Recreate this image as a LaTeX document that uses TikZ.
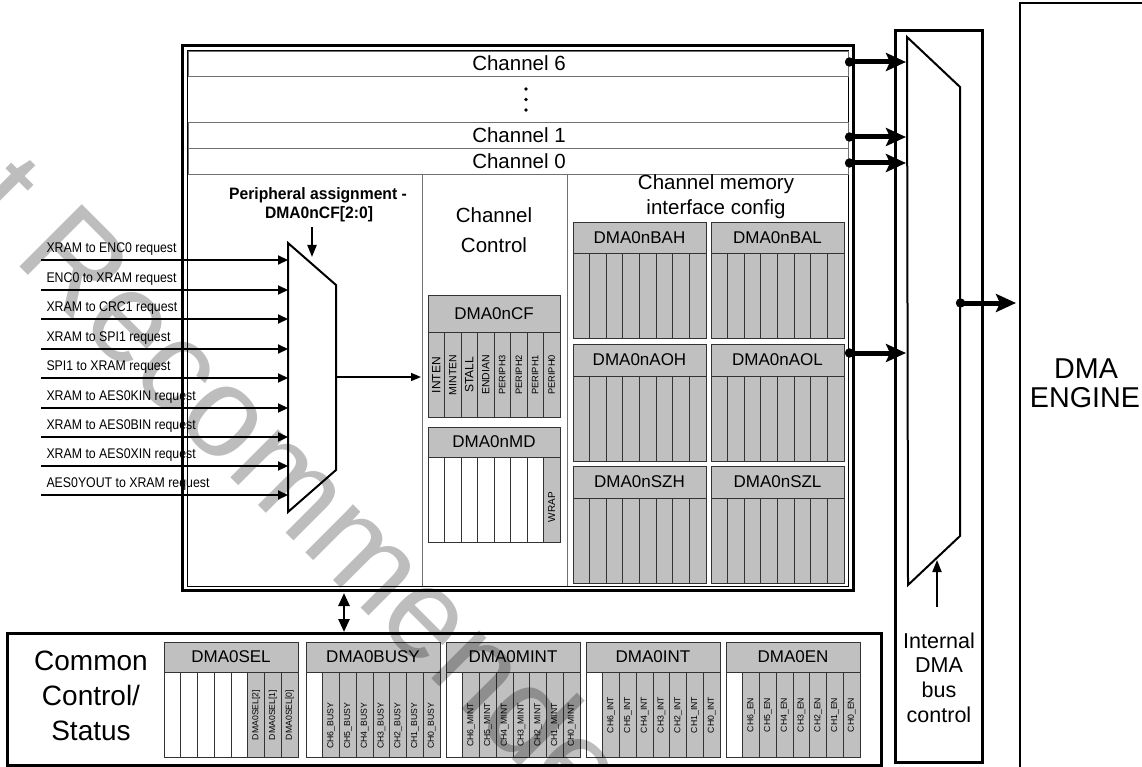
\documentclass[tikz,border=0pt]{standalone}
\usepackage{fontspec}
\setmainfont{Liberation Sans}
\newfontfamily\reqfont[FakeStretch=0.88]{Liberation Sans}
\newfontfamily\pafont[FakeStretch=0.95]{Liberation Sans}
\usetikzlibrary{arrows.meta}
\definecolor{regfill}{HTML}{C0C0C0}
\definecolor{cellline}{HTML}{333333}
\definecolor{rowline}{HTML}{707070}
\definecolor{wmark}{HTML}{BDBDBD}
\newcommand\fsz[1]{\fontsize{#1}{#1}\selectfont}
\newcommand\dmaregtitle[6]{%
  \draw[hdrbox] (#1,#2) rectangle ({#1+#4},#3);
  \node[font=\fsz{17}] (#6) at ({#1+#4/2},{(#2+#3)/2}) {#5};
}
\newcommand\dmaregbits[7]{%
  \foreach \f/\t [count=\i from 0] in {#7} {
    \draw[\f] ({#1+\i*#4/8},#2) rectangle ({#1+(\i+1)*#4/8},#3);
    \node[rotate=90] (#6-\i) at ({#1+(\i+0.5)*#4/8},#5) {\t};
  }
}
\begin{document}
\begin{tikzpicture}[x=1pt,y=-1pt,
  every node/.style={inner sep=0pt,outer sep=0pt},
  hdrbox/.style={draw=cellline,fill=regfill,line width=0.8pt},
  cellg/.style={draw=cellline,fill=regfill,line width=0.8pt},
  cellw/.style={draw=cellline,line width=0.8pt},
  reqarrow/.style={line width=2.2pt,-{Triangle[length=10pt,width=9pt]}},
  chanarrow/.style={line width=5pt,{Circle[length=9pt]}-{Stealth[length=20pt,width=18pt,inset=4pt]}},
  thinarrow/.style={line width=1.5pt,-{Triangle[length=10pt,width=8pt]}},
  ctrlarrow/.style={line width=2pt,-{Triangle[length=12pt,width=9pt]}},
  dblarrow/.style={line width=2.5pt,{Triangle[length=13pt,width=11pt]}-{Triangle[length=13pt,width=11pt]}},
  rowbox/.style={draw=rowline,line width=0.8pt},
  divline/.style={draw=rowline,line width=0.8pt},
  muxshape/.style={draw=black,line width=2pt,line join=miter},
  bigbox/.style={draw=black,line width=3pt},
  sectext/.style={font=\fsz{20.5},anchor=base},
]
\path[use as bounding box] (0,0) rectangle (1142,767);
\clip (0,0) rectangle (1142,767);
\fill[white] (0,0) rectangle (1142,767);

% DMA engine
\draw[line width=2pt] (1020,790) -- (1020,3) -- (1160,3);
\node[font=\fsz{28.7},anchor=base] (eng1) at (1086,378) {DMA};
\node[font=\fsz{28.7},anchor=base] (eng2) at (1085,407) {ENGINE};

% internal bus box and mux
\draw[bigbox] (895,31) rectangle (982,762);
\draw[muxshape] (907,37) -- (960,87) -- (960,536) -- (908,585) -- cycle;
\node[font=\fsz{21.5},anchor=base] (ib1) at (939,648) {Internal};
\node[font=\fsz{21.5},anchor=base] (ib2) at (939,672) {DMA};
\node[font=\fsz{21.5},anchor=base] (ib3) at (939,697) {bus};
\node[font=\fsz{21.5},anchor=base] (ib4) at (939,722) {control};
\coordinate (ibfrom) at (937,607);
\coordinate (ibto) at (937,560);
\draw[ctrlarrow] (ibfrom) -- (ibto);
\coordinate (engout1) at (956,303);
\coordinate (engout2) at (1016,303);
\draw[chanarrow] (engout1) -- (engout2);

% main channel box
\draw[bigbox] (182,46) rectangle (853,590);
\draw[line width=1pt] (187,51) rectangle (848,586);
\draw[rowbox] (188,51) rectangle (848,76);
\draw[rowbox] (188,122) rectangle (848,148);
\draw[rowbox] (188,148) rectangle (848,174);
\node[font=\fsz{20.5}] (ch6) at (519,63) {Channel 6};
\node[font=\fsz{20.5}] (ch1) at (519,135) {Channel 1};
\node[font=\fsz{20.5}] (ch0) at (519,161) {Channel 0};
\fill (526,89) circle (1.9pt);
\fill (526,99.5) circle (1.9pt);
\fill (526,110) circle (1.9pt);
\draw[divline] (422,174) -- (422,586);
\draw[divline] (567,174) -- (567,586);

% channel outputs to bus
\foreach \yy [count=\k] in {62,137,163,353} {
  \coordinate (cs\k) at (845,\yy);
  \coordinate (ce\k) at (906,\yy);
  \draw[chanarrow] (cs\k) -- (ce\k);
}

% peripheral assignment
\node[font=\pafont\bfseries\fsz{16.5},anchor=base] (pa1) at (318,200) {Peripheral assignment -};
\node[font=\pafont\bfseries\fsz{16.5},anchor=base] (pa2) at (319,219) {DMA0nCF[2:0]};
\coordinate (paa) at (312,227);
\coordinate (pab) at (312,257);
\draw[ctrlarrow] (paa) -- (pab);
\draw[muxshape] (288,243) -- (336,285) -- (336,470) -- (288,512) -- cycle;
\coordinate (mo1) at (336,377);
\coordinate (mo2) at (421,377);
\draw[thinarrow] (mo1) -- (mo2);

\foreach \yy/\lab [count=\k] in {260/XRAM to ENC0 request,290/ENC0 to XRAM request,319/XRAM to CRC1 request,349/XRAM to SPI1 request,378/SPI1 to XRAM request,408/XRAM to AES0KIN request,437/XRAM to AES0BIN request,466/XRAM to AES0XIN request,495/AES0YOUT to XRAM request} {
  \coordinate (rq\k) at (41,\yy);
  \coordinate (mx\k) at (288,\yy);
  \draw[reqarrow] (rq\k) -- (mx\k);
  \node[anchor=base west,font=\reqfont\fsz{14}] (lab\k) at (46.5,\yy-8) {\lab};
}

% channel control
\node[sectext] (cc1) at (494,223) {Channel};
\node[sectext] (cc2) at (494,252) {Control};
\dmaregtitle{428}{295}{332}{132}{DMA0nCF}{cf}
\dmaregbits{428}{332}{417}{132}{375}{cfb}{cellg/{\fsz{12}INTEN},cellg/{\fsz{10.5}MINTEN},cellg/{\fsz{12}STALL},cellg/{\fsz{10.5}ENDIAN},cellg/{\fsz{9.3}PERIPH3},cellg/{\fsz{9.3}PERIPH2},cellg/{\fsz{9.3}PERIPH1},cellg/{\fsz{9.3}PERIPH0}}
\dmaregtitle{428}{427}{457}{132}{DMA0nMD}{md}
\dmaregbits{428}{457}{542}{132}{507}{mdb}{cellw/{},cellw/{},cellw/{},cellw/{},cellw/{},cellw/{},cellw/{},cellg/{\fsz{10}WRAP}}

% channel memory interface
\node[sectext] (cm1) at (716,190) {Channel memory};
\node[sectext] (cm2) at (716,215) {interface config};
\foreach \nm/\xx/\ya/\yb/\yc in {DMA0nBAH/573/222/253/338,DMA0nBAL/711/222/253/338,DMA0nAOH/573/344/376/461,DMA0nAOL/711/344/376/461,DMA0nSZH/573/466/498/583,DMA0nSZL/711/466/498/583} {
  \dmaregtitle{\xx}{\ya}{\yb}{133}{\nm}{t\nm}
  \dmaregbits{\xx}{\yb}{\yc}{133}{\yb}{b\nm}{cellg/{},cellg/{},cellg/{},cellg/{},cellg/{},cellg/{},cellg/{},cellg/{}}
}

% common control / status
\coordinate (da1) at (344,593);
\coordinate (da2) at (344,632);
\draw[dblarrow] (da1) -- (da2);
\draw[bigbox] (7,633) rectangle (881,765);
\node[font=\fsz{28},anchor=base] (cs1) at (91,670) {Common};
\node[font=\fsz{28},anchor=base] (cs2) at (91,705) {Control/};
\node[font=\fsz{28},anchor=base] (cs3) at (91,740) {Status};
\begin{scope}[font=\fsz{8.7}]
\dmaregtitle{164}{642}{672}{134}{DMA0SEL}{sel}
\dmaregbits{164}{672}{757}{134}{715}{selb}{cellw/{},cellw/{},cellw/{},cellw/{},cellw/{},cellg/{DMA0SEL[2]},cellg/{DMA0SEL[1]},cellg/{DMA0SEL[0]}}
\dmaregtitle{306}{642}{672}{134}{DMA0BUSY}{busy}
\dmaregbits{306}{672}{757}{134}{726}{busyb}{cellw/{},cellg/{CH6\_BUSY},cellg/{CH5\_BUSY},cellg/{CH4\_BUSY},cellg/{CH3\_BUSY},cellg/{CH2\_BUSY},cellg/{CH1\_BUSY},cellg/{CH0\_BUSY}}
\dmaregtitle{446}{642}{672}{134}{DMA0MINT}{mint}
\dmaregbits{446}{672}{757}{134}{725}{mintb}{cellw/{},cellg/{CH6\_MINT},cellg/{CH5\_MINT},cellg/{CH4\_MINT},cellg/{CH3\_MINT},cellg/{CH2\_MINT},cellg/{CH1\_MINT},cellg/{CH0\_MINT}}
\dmaregtitle{586}{642}{672}{134}{DMA0INT}{int}
\dmaregbits{586}{672}{757}{134}{715}{intb}{cellw/{},cellg/{CH6\_INT},cellg/{CH5\_INT},cellg/{CH4\_INT},cellg/{CH3\_INT},cellg/{CH2\_INT},cellg/{CH1\_INT},cellg/{CH0\_INT}}
\dmaregtitle{726}{642}{672}{134}{DMA0EN}{en}
\dmaregbits{726}{672}{757}{134}{715}{enb}{cellw/{},cellg/{CH6\_EN},cellg/{CH5\_EN},cellg/{CH4\_EN},cellg/{CH3\_EN},cellg/{CH2\_EN},cellg/{CH1\_EN},cellg/{CH0\_EN}}
\end{scope}

% watermark, multiplied over the drawing
\begin{scope}[blend mode=multiply]
\node[anchor=base west,rotate=-45,text=wmark,font=\fsz{128}] (wm) at (-153,94) {Not Recommended for New Designs};
\end{scope}
\end{tikzpicture}
\end{document}
